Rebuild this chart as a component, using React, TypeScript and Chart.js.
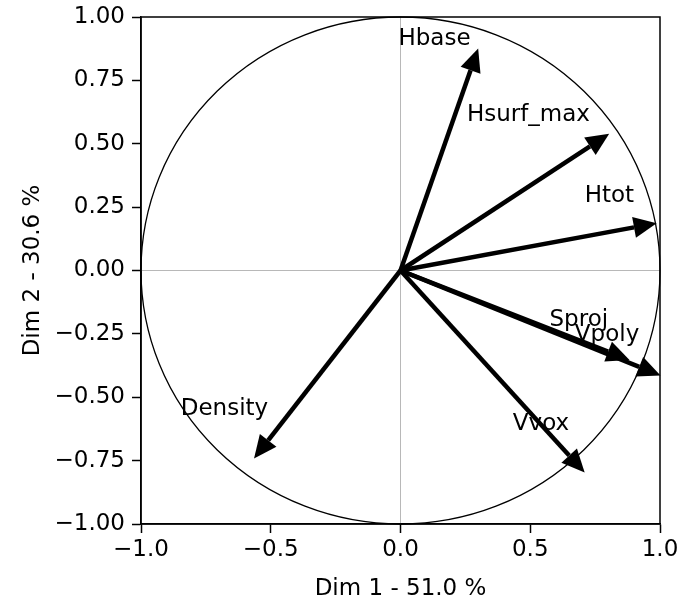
import React, { useEffect, useRef } from 'react';
import Chart from 'chart.js/auto';

// Variables and their loadings on the first two dimensions
const variables = ['Hbase', 'Hsurf_max', 'Htot', 'Sproj', 'Vpoly', 'Vvox', 'Density'];
const dim1 = [0.27, 0.73, 0.9, 0.8, 0.92, 0.65, -0.51];
const dim2 = [0.79, 0.49, 0.17, -0.32, -0.38, -0.73, -0.67];

const xTickValues = [-1, -0.5, 0, 0.5, 1];
const xTickLabels = ['\u22121.0', '\u22120.5', '0.0', '0.5', '1.0'];
const yTickValues = [-1, -0.75, -0.5, -0.25, 0, 0.25, 0.5, 0.75, 1];
const yTickLabels = ['\u22121.00', '\u22120.75', '\u22120.50', '\u22120.25', '0.00', '0.25', '0.50', '0.75', '1.00'];

const xTitle = 'Dim 1 - 51.0 %';
const yTitle = 'Dim 2 - 30.6 %';
const labelOffset = 0.1;

const FAMILY = "'DejaVu Sans', sans-serif";
const FONT_SIZE = 23;
const HEAD_LEN = 23;
const HEAD_W = 21;

const corrPlugin = {
  id: 'corrCircle',
  beforeDatasetsDraw(chart: any) {
    const { ctx, chartArea, scales } = chart;
    const x = scales.x;
    const y = scales.y;
    const x0 = x.getPixelForValue(0);
    const y0 = y.getPixelForValue(0);
    ctx.save();
    ctx.strokeStyle = '#b8b8b8';
    ctx.lineWidth = 1;
    ctx.beginPath();
    ctx.moveTo(chartArea.left, y0);
    ctx.lineTo(chartArea.right, y0);
    ctx.moveTo(x0, chartArea.top);
    ctx.lineTo(x0, chartArea.bottom);
    ctx.stroke();
    const rx = x.getPixelForValue(1) - x0;
    const ry = y0 - y.getPixelForValue(1);
    ctx.strokeStyle = '#000';
    ctx.lineWidth = 1.3;
    ctx.beginPath();
    ctx.ellipse(x0, y0, rx, ry, 0, 0, Math.PI * 2);
    ctx.stroke();
    ctx.restore();
  },
  afterDatasetsDraw(chart: any) {
    const { ctx, chartArea, scales } = chart;
    const x = scales.x;
    const y = scales.y;
    const x0 = x.getPixelForValue(0);
    const y0 = y.getPixelForValue(0);
    ctx.save();
    ctx.fillStyle = '#000';
    for (let i = 0; i < variables.length; i++) {
      const bx = x.getPixelForValue(dim1[i]);
      const by = y.getPixelForValue(dim2[i]);
      const dx = bx - x0;
      const dy = by - y0;
      const len = Math.hypot(dx, dy) || 1;
      const ux = dx / len;
      const uy = dy / len;
      const nx = -uy;
      const ny = ux;
      ctx.beginPath();
      ctx.moveTo(bx + ux * HEAD_LEN, by + uy * HEAD_LEN);
      ctx.lineTo(bx + nx * HEAD_W / 2, by + ny * HEAD_W / 2);
      ctx.lineTo(bx - nx * HEAD_W / 2, by - ny * HEAD_W / 2);
      ctx.closePath();
      ctx.fill();
    }
    ctx.font = `${FONT_SIZE}px ${FAMILY}`;
    ctx.textAlign = 'right';
    ctx.textBaseline = 'alphabetic';
    for (let i = 0; i < variables.length; i++) {
      ctx.fillText(
        variables[i],
        x.getPixelForValue(dim1[i]),
        y.getPixelForValue(dim2[i] + labelOffset)
      );
    }
    ctx.strokeStyle = '#000';
    ctx.lineWidth = 1.5;
    ctx.strokeRect(
      chartArea.left,
      chartArea.top,
      chartArea.right - chartArea.left,
      chartArea.bottom - chartArea.top
    );
    ctx.restore();
  },
};

export default function App() {
  const canvasRef = useRef<HTMLCanvasElement | null>(null);

  useEffect(() => {
    document.body.style.margin = '0';
    const canvas = canvasRef.current;
    if (!canvas) return;

    const datasets = variables.map((name, i) => ({
      label: name,
      data: [
        { x: 0, y: 0 },
        { x: dim1[i], y: dim2[i] },
      ],
      showLine: true,
      borderColor: '#000',
      backgroundColor: '#000',
      borderWidth: 4.5,
      borderCapStyle: 'butt' as const,
      pointRadius: 0,
      pointHoverRadius: 0,
    }));

    const tickFont = { family: FAMILY, size: FONT_SIZE };

    const chart = new Chart(canvas, {
      type: 'scatter',
      data: { datasets },
      options: {
        animation: false,
        responsive: true,
        maintainAspectRatio: false,
        layout: { padding: { top: 17, right: 21, left: 0, bottom: 0 } },
        plugins: {
          legend: { display: false },
          tooltip: { enabled: false },
        },
        scales: {
          x: {
            type: 'linear',
            position: 'bottom',
            min: -1,
            max: 1,
            afterBuildTicks: (axis: any) => {
              axis.ticks = xTickValues.map((v) => ({ value: v }));
            },
            afterFit: (scale: any) => {
              scale.height = 77;
              scale.paddingLeft = 0;
              scale.paddingRight = 0;
              scale.paddingTop = 0;
              scale.paddingBottom = 0;
            },
            ticks: {
              autoSkip: false,
              maxRotation: 0,
              padding: 3,
              color: '#000',
              font: tickFont,
              callback: (_v: any, idx: number) => xTickLabels[idx],
            },
            grid: {
              display: true,
              drawOnChartArea: false,
              drawTicks: true,
              tickLength: 9,
              tickWidth: 1.5,
              tickColor: '#000',
            },
            border: { display: true, color: '#000', width: 1.5 },
            title: {
              display: true,
              text: xTitle,
              color: '#000',
              font: { family: FAMILY, size: FONT_SIZE, lineHeight: 1.05 },
              padding: { top: 0, bottom: 0 },
            },
          },
          y: {
            type: 'linear',
            position: 'left',
            min: -1,
            max: 1,
            afterBuildTicks: (axis: any) => {
              axis.ticks = yTickValues.map((v) => ({ value: v }));
            },
            afterFit: (scale: any) => {
              scale.width = 141;
              scale.paddingLeft = 0;
              scale.paddingRight = 0;
              scale.paddingTop = 0;
              scale.paddingBottom = 0;
            },
            ticks: {
              autoSkip: false,
              padding: 7,
              color: '#000',
              font: tickFont,
              callback: (_v: any, idx: number) => yTickLabels[idx],
            },
            grid: {
              display: true,
              drawOnChartArea: false,
              drawTicks: true,
              tickLength: 9,
              tickWidth: 1.5,
              tickColor: '#000',
            },
            border: { display: true, color: '#000', width: 1.5 },
            title: {
              display: true,
              text: yTitle,
              color: '#000',
              font: { family: FAMILY, size: FONT_SIZE, lineHeight: 1.2 },
              padding: { top: 19, bottom: 0 },
            },
          },
        },
      },
      plugins: [corrPlugin],
    });

    return () => {
      chart.destroy();
    };
  }, []);

  return (
    <div style={{ position: 'relative', width: 681, height: 601 }}>
      <canvas ref={canvasRef} />
    </div>
  );
}
